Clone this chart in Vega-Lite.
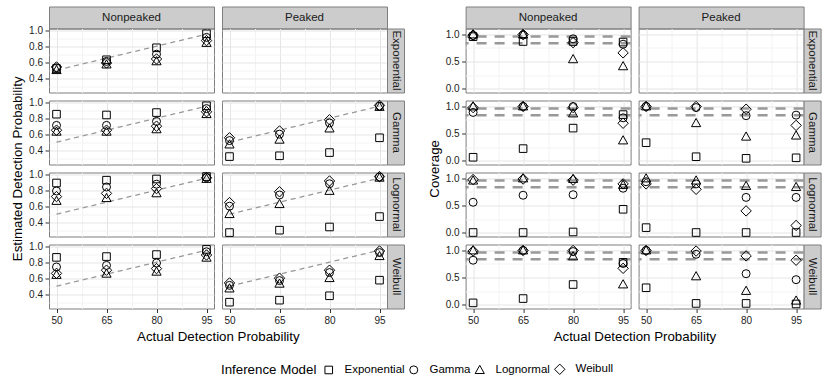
{
"$schema":"https://vega.github.io/schema/vega-lite/v6.json",
"padding":{"left":10,"top":5.5,"right":5,"bottom":5},
"config":{"font":"Liberation Sans","view":{"stroke":"#7f7f7f","strokeWidth":1},
"axis":{"domain":false,"grid":true,"gridWidth":1,"tickColor":"#333333","tickSize":4,"tickWidth":1,"labelFontSize":10,"labelColor":"#222222","labelPadding":2.5,"labelFlush":false,"labelOverlap":false,"titleFontSize":13.3,"titleFontWeight":"normal","titleColor":"#000000","titlePadding":4,"titleLimit":400}},
"datasets":{
"ident":[{"x":50,"y":0.5},{"x":95,"y":0.95}],
"ref":[{"y":0.965},{"y":0.84}],
"est_exp_np":[{"model":"Exponential","x":50,"y":0.52},{"model":"Gamma","x":50,"y":0.53},{"model":"Lognormal","x":50,"y":0.50},{"model":"Weibull","x":50,"y":0.54},{"model":"Exponential","x":65,"y":0.63},{"model":"Gamma","x":65,"y":0.61},{"model":"Lognormal","x":65,"y":0.57},{"model":"Weibull","x":65,"y":0.59},{"model":"Exponential","x":80,"y":0.78},{"model":"Gamma","x":80,"y":0.70},{"model":"Lognormal","x":80,"y":0.61},{"model":"Weibull","x":80,"y":0.64},{"model":"Exponential","x":95,"y":0.955},{"model":"Gamma","x":95,"y":0.91},{"model":"Lognormal","x":95,"y":0.84},{"model":"Weibull","x":95,"y":0.87}],
"est_gam_np":[{"model":"Exponential","x":50,"y":0.85},{"model":"Gamma","x":50,"y":0.71},{"model":"Lognormal","x":50,"y":0.63},{"model":"Weibull","x":50,"y":0.65},{"model":"Exponential","x":65,"y":0.84},{"model":"Gamma","x":65,"y":0.71},{"model":"Lognormal","x":65,"y":0.63},{"model":"Weibull","x":65,"y":0.65},{"model":"Exponential","x":80,"y":0.87},{"model":"Gamma","x":80,"y":0.76},{"model":"Lognormal","x":80,"y":0.66},{"model":"Weibull","x":80,"y":0.70},{"model":"Exponential","x":95,"y":0.955},{"model":"Gamma","x":95,"y":0.92},{"model":"Lognormal","x":95,"y":0.85},{"model":"Weibull","x":95,"y":0.88}],
"est_log_np":[{"model":"Exponential","x":50,"y":0.89},{"model":"Gamma","x":50,"y":0.79},{"model":"Lognormal","x":50,"y":0.665},{"model":"Weibull","x":50,"y":0.72},{"model":"Exponential","x":65,"y":0.925},{"model":"Gamma","x":65,"y":0.84},{"model":"Lognormal","x":65,"y":0.70},{"model":"Weibull","x":65,"y":0.76},{"model":"Exponential","x":80,"y":0.94},{"model":"Gamma","x":80,"y":0.875},{"model":"Lognormal","x":80,"y":0.76},{"model":"Weibull","x":80,"y":0.82},{"model":"Exponential","x":95,"y":0.97},{"model":"Gamma","x":95,"y":0.96},{"model":"Lognormal","x":95,"y":0.94},{"model":"Weibull","x":95,"y":0.955}],
"est_wei_np":[{"model":"Exponential","x":50,"y":0.86},{"model":"Gamma","x":50,"y":0.74},{"model":"Lognormal","x":50,"y":0.64},{"model":"Weibull","x":50,"y":0.66},{"model":"Exponential","x":65,"y":0.87},{"model":"Gamma","x":65,"y":0.76},{"model":"Lognormal","x":65,"y":0.655},{"model":"Weibull","x":65,"y":0.70},{"model":"Exponential","x":80,"y":0.895},{"model":"Gamma","x":80,"y":0.79},{"model":"Lognormal","x":80,"y":0.68},{"model":"Weibull","x":80,"y":0.72},{"model":"Exponential","x":95,"y":0.96},{"model":"Gamma","x":95,"y":0.93},{"model":"Lognormal","x":95,"y":0.855},{"model":"Weibull","x":95,"y":0.89}],
"est_gam_p":[{"model":"Exponential","x":50,"y":0.32},{"model":"Gamma","x":50,"y":0.52},{"model":"Lognormal","x":50,"y":0.47},{"model":"Weibull","x":50,"y":0.555},{"model":"Exponential","x":65,"y":0.33},{"model":"Gamma","x":65,"y":0.60},{"model":"Lognormal","x":65,"y":0.53},{"model":"Weibull","x":65,"y":0.64},{"model":"Exponential","x":80,"y":0.37},{"model":"Gamma","x":80,"y":0.74},{"model":"Lognormal","x":80,"y":0.67},{"model":"Weibull","x":80,"y":0.78},{"model":"Exponential","x":95,"y":0.555},{"model":"Gamma","x":95,"y":0.95},{"model":"Lognormal","x":95,"y":0.94},{"model":"Weibull","x":95,"y":0.96}],
"est_log_p":[{"model":"Exponential","x":50,"y":0.27},{"model":"Gamma","x":50,"y":0.60},{"model":"Lognormal","x":50,"y":0.50},{"model":"Weibull","x":50,"y":0.645},{"model":"Exponential","x":65,"y":0.30},{"model":"Gamma","x":65,"y":0.74},{"model":"Lognormal","x":65,"y":0.625},{"model":"Weibull","x":65,"y":0.78},{"model":"Exponential","x":80,"y":0.34},{"model":"Gamma","x":80,"y":0.88},{"model":"Lognormal","x":80,"y":0.79},{"model":"Weibull","x":80,"y":0.915},{"model":"Exponential","x":95,"y":0.47},{"model":"Gamma","x":95,"y":0.965},{"model":"Lognormal","x":95,"y":0.955},{"model":"Weibull","x":95,"y":0.97}],
"est_wei_p":[{"model":"Exponential","x":50,"y":0.30},{"model":"Gamma","x":50,"y":0.51},{"model":"Lognormal","x":50,"y":0.47},{"model":"Weibull","x":50,"y":0.54},{"model":"Exponential","x":65,"y":0.325},{"model":"Gamma","x":65,"y":0.57},{"model":"Lognormal","x":65,"y":0.53},{"model":"Weibull","x":65,"y":0.60},{"model":"Exponential","x":80,"y":0.38},{"model":"Gamma","x":80,"y":0.67},{"model":"Lognormal","x":80,"y":0.60},{"model":"Weibull","x":80,"y":0.70},{"model":"Exponential","x":95,"y":0.575},{"model":"Gamma","x":95,"y":0.92},{"model":"Lognormal","x":95,"y":0.875},{"model":"Weibull","x":95,"y":0.94}],
"cov_exp_np":[{"model":"Exponential","x":50,"y":0.96},{"model":"Gamma","x":50,"y":0.98},{"model":"Lognormal","x":50,"y":1.0},{"model":"Weibull","x":50,"y":0.99},{"model":"Exponential","x":65,"y":0.87},{"model":"Gamma","x":65,"y":0.99},{"model":"Lognormal","x":65,"y":1.0},{"model":"Weibull","x":65,"y":1.0},{"model":"Exponential","x":80,"y":0.87},{"model":"Gamma","x":80,"y":0.92},{"model":"Lognormal","x":80,"y":0.54},{"model":"Weibull","x":80,"y":0.85},{"model":"Exponential","x":95,"y":0.86},{"model":"Gamma","x":95,"y":0.82},{"model":"Lognormal","x":95,"y":0.41},{"model":"Weibull","x":95,"y":0.66}],
"cov_gam_np":[{"model":"Exponential","x":50,"y":0.06},{"model":"Gamma","x":50,"y":0.89},{"model":"Lognormal","x":50,"y":1.0},{"model":"Weibull","x":50,"y":0.98},{"model":"Exponential","x":65,"y":0.22},{"model":"Gamma","x":65,"y":1.0},{"model":"Lognormal","x":65,"y":1.0},{"model":"Weibull","x":65,"y":1.0},{"model":"Exponential","x":80,"y":0.60},{"model":"Gamma","x":80,"y":1.0},{"model":"Lognormal","x":80,"y":0.87},{"model":"Weibull","x":80,"y":0.98},{"model":"Exponential","x":95,"y":0.85},{"model":"Gamma","x":95,"y":0.79},{"model":"Lognormal","x":95,"y":0.37},{"model":"Weibull","x":95,"y":0.69}],
"cov_log_np":[{"model":"Exponential","x":50,"y":0.0},{"model":"Gamma","x":50,"y":0.56},{"model":"Lognormal","x":50,"y":0.96},{"model":"Weibull","x":50,"y":0.98},{"model":"Exponential","x":65,"y":0.0},{"model":"Gamma","x":65,"y":0.69},{"model":"Lognormal","x":65,"y":1.0},{"model":"Weibull","x":65,"y":0.99},{"model":"Exponential","x":80,"y":0.01},{"model":"Gamma","x":80,"y":0.70},{"model":"Lognormal","x":80,"y":0.99},{"model":"Weibull","x":80,"y":0.97},{"model":"Exponential","x":95,"y":0.43},{"model":"Gamma","x":95,"y":0.82},{"model":"Lognormal","x":95,"y":0.88},{"model":"Weibull","x":95,"y":0.90}],
"cov_wei_np":[{"model":"Exponential","x":50,"y":0.03},{"model":"Gamma","x":50,"y":0.82},{"model":"Lognormal","x":50,"y":1.0},{"model":"Weibull","x":50,"y":0.99},{"model":"Exponential","x":65,"y":0.11},{"model":"Gamma","x":65,"y":1.0},{"model":"Lognormal","x":65,"y":1.0},{"model":"Weibull","x":65,"y":1.0},{"model":"Exponential","x":80,"y":0.37},{"model":"Gamma","x":80,"y":0.98},{"model":"Lognormal","x":80,"y":0.89},{"model":"Weibull","x":80,"y":1.0},{"model":"Exponential","x":95,"y":0.78},{"model":"Gamma","x":95,"y":0.76},{"model":"Lognormal","x":95,"y":0.37},{"model":"Weibull","x":95,"y":0.67}],
"cov_gam_p":[{"model":"Exponential","x":50,"y":0.33},{"model":"Gamma","x":50,"y":1.0},{"model":"Lognormal","x":50,"y":1.0},{"model":"Weibull","x":50,"y":1.0},{"model":"Exponential","x":65,"y":0.07},{"model":"Gamma","x":65,"y":0.98},{"model":"Lognormal","x":65,"y":0.69},{"model":"Weibull","x":65,"y":1.0},{"model":"Exponential","x":80,"y":0.04},{"model":"Gamma","x":80,"y":0.83},{"model":"Lognormal","x":80,"y":0.44},{"model":"Weibull","x":80,"y":0.95},{"model":"Exponential","x":95,"y":0.05},{"model":"Gamma","x":95,"y":0.84},{"model":"Lognormal","x":95,"y":0.46},{"model":"Weibull","x":95,"y":0.65}],
"cov_log_p":[{"model":"Exponential","x":50,"y":0.09},{"model":"Gamma","x":50,"y":0.94},{"model":"Lognormal","x":50,"y":1.0},{"model":"Weibull","x":50,"y":0.90},{"model":"Exponential","x":65,"y":0.0},{"model":"Gamma","x":65,"y":0.90},{"model":"Lognormal","x":65,"y":0.96},{"model":"Weibull","x":65,"y":0.80},{"model":"Exponential","x":80,"y":0.0},{"model":"Gamma","x":80,"y":0.65},{"model":"Lognormal","x":80,"y":0.86},{"model":"Weibull","x":80,"y":0.40},{"model":"Exponential","x":95,"y":0.0},{"model":"Gamma","x":95,"y":0.65},{"model":"Lognormal","x":95,"y":0.84},{"model":"Weibull","x":95,"y":0.13}],
"cov_wei_p":[{"model":"Exponential","x":50,"y":0.31},{"model":"Gamma","x":50,"y":1.0},{"model":"Lognormal","x":50,"y":1.0},{"model":"Weibull","x":50,"y":1.0},{"model":"Exponential","x":65,"y":0.02},{"model":"Gamma","x":65,"y":0.93},{"model":"Lognormal","x":65,"y":0.52},{"model":"Weibull","x":65,"y":0.99},{"model":"Exponential","x":80,"y":0.02},{"model":"Gamma","x":80,"y":0.57},{"model":"Lognormal","x":80,"y":0.25},{"model":"Weibull","x":80,"y":0.90},{"model":"Exponential","x":95,"y":0.01},{"model":"Gamma","x":95,"y":0.46},{"model":"Lognormal","x":95,"y":0.07},{"model":"Weibull","x":95,"y":0.82}]
},
"resolve":{"scale":{"x":"independent","y":"independent","shape":"shared"},"axis":{"x":"independent","y":"independent"},"legend":{"shape":"shared"}},
"spacing":21.6,
"hconcat":[
{"columns":4,"spacing":0,"bounds":"flush",
"resolve":{"scale":{"x":"independent","y":"independent","shape":"shared"},"axis":{"x":"independent","y":"independent"},"legend":{"shape":"shared"}},
"concat":[
{"width":165,"height":22,"view":{"fill":"#cccccc","stroke":"#7f7f7f"},"data":{"values":[{"label":"Nonpeaked"}]},"mark":{"type":"text","fontSize":11.5,"color":"#1a1a1a"},"encoding":{"text":{"field":"label"}}},
{"width":7.7,"height":22,"view":{"stroke":null},"data":{"values":[{}]},"mark":"text","encoding":{"text":{"value":""}}},
{"width":165,"height":22,"view":{"fill":"#cccccc","stroke":"#7f7f7f"},"data":{"values":[{"label":"Peaked"}]},"mark":{"type":"text","fontSize":11.5,"color":"#1a1a1a"},"encoding":{"text":{"field":"label"}}},
{"width":17,"height":22,"view":{"stroke":null},"data":{"values":[{}]},"mark":"text","encoding":{"text":{"value":""}}},

{"width":165,"height":64,
"encoding":{"x":{"field":"x","type":"quantitative","scale":{"domain":[47.75,97.25],"nice":false,"zero":false},"axis":{"values":[50,57.5,65,72.5,80,87.5,95],"labels":false,"ticks":false,"title":null,"gridColor":{"condition":{"test":"datum.value % 15 != 5","value":"#f3f3f3"},"value":"#e5e5e5"}}},
"y":{"field":"y","type":"quantitative","scale":{"domain":[0.221,1.021],"nice":false,"zero":false},"axis":{"values":[0.3,0.4,0.5,0.6,0.7,0.8,0.9,1],"format":".1f","labelExpr":"round(datum.value*10) % 2 == 1 ? '' : datum.label","tickOpacity":{"condition":{"test":"round(datum.value*10) % 2 == 1","value":0},"value":1},"title":null,"gridColor":{"condition":{"test":"round(datum.value*10) % 2 == 1","value":"#f3f3f3"},"value":"#e5e5e5"}}}},
"layer":[
{"data":{"name":"ident"},"mark":{"type":"line","color":"#999999","strokeWidth":1.3,"strokeDash":[5,4]}},
{"data":{"name":"est_exp_np"},"mark":{"type":"point","filled":false,"color":"#000000","strokeWidth":1,"size":64,"opacity":1},"encoding":{
"shape":{"field":"model","type":"nominal","title":"Inference Model","scale":{"domain":["Exponential","Gamma","Lognormal","Weibull"],"range":["M-0.95,-0.95H0.95V0.95H-0.95Z","circle","M0,-1.2L1.15,0.85L-1.15,0.85Z","M0,-1.3L1.3,0L0,1.3L-1.3,0Z"]},"legend":{"orient":"none","legendX":172,"legendY":357,"direction":"horizontal","titleOrient":"left","titleFontSize":13.3,"titleFontWeight":"normal","titleColor":"#000000","titlePadding":6,"labelFontSize":11.5,"labelColor":"#000000","labelOffset":10,"columnPadding":2,"symbolStrokeColor":"#000000","symbolStrokeWidth":1,"symbolSize":64}}}}
]},
{"width":7.7,"height":1,"view":{"stroke":null},"data":{"values":[{}]},"mark":"text","encoding":{"text":{"value":""}}},
{"width":165,"height":64,"data":{"values":[]},"mark":{"type":"point","filled":false,"color":"#000000","strokeWidth":1,"size":64,"opacity":1},"encoding":{
"x":{"field":"x","type":"quantitative","scale":{"domain":[47.75,97.25],"nice":false,"zero":false},"axis":{"values":[50,57.5,65,72.5,80,87.5,95],"labels":false,"ticks":false,"title":null,"gridColor":{"condition":{"test":"datum.value % 15 != 5","value":"#f3f3f3"},"value":"#e5e5e5"}}},
"y":{"field":"y","type":"quantitative","scale":{"domain":[0.221,1.021],"nice":false,"zero":false},"axis":{"values":[0.3,0.4,0.5,0.6,0.7,0.8,0.9,1],"labels":false,"ticks":false,"title":null,"gridColor":{"condition":{"test":"round(datum.value*10) % 2 == 1","value":"#f3f3f3"},"value":"#e5e5e5"}}},
"shape":{"field":"model","type":"nominal","title":"Inference Model","scale":{"domain":["Exponential","Gamma","Lognormal","Weibull"],"range":["M-0.95,-0.95H0.95V0.95H-0.95Z","circle","M0,-1.2L1.15,0.85L-1.15,0.85Z","M0,-1.3L1.3,0L0,1.3L-1.3,0Z"]},"legend":{"orient":"none","legendX":172,"legendY":357,"direction":"horizontal","titleOrient":"left","titleFontSize":13.3,"titleFontWeight":"normal","titleColor":"#000000","titlePadding":6,"labelFontSize":11.5,"labelColor":"#000000","labelOffset":10,"columnPadding":2,"symbolStrokeColor":"#000000","symbolStrokeWidth":1,"symbolSize":64}}}},
{"width":17,"height":64,"view":{"fill":"#cccccc","stroke":"#7f7f7f"},"data":{"values":[{"label":"Exponential"}]},"mark":{"type":"text","fontSize":11.5,"color":"#1a1a1a","angle":90},"encoding":{"text":{"field":"label"}}},

{"width":1,"height":7.7,"view":{"stroke":null},"data":{"values":[{}]},"mark":"text","encoding":{"text":{"value":""}}},
{"width":1,"height":7.7,"view":{"stroke":null},"data":{"values":[{}]},"mark":"text","encoding":{"text":{"value":""}}},
{"width":1,"height":7.7,"view":{"stroke":null},"data":{"values":[{}]},"mark":"text","encoding":{"text":{"value":""}}},
{"width":1,"height":7.7,"view":{"stroke":null},"data":{"values":[{}]},"mark":"text","encoding":{"text":{"value":""}}},

{"width":165,"height":64,
"encoding":{"x":{"field":"x","type":"quantitative","scale":{"domain":[47.75,97.25],"nice":false,"zero":false},"axis":{"values":[50,57.5,65,72.5,80,87.5,95],"labels":false,"ticks":false,"title":null,"gridColor":{"condition":{"test":"datum.value % 15 != 5","value":"#f3f3f3"},"value":"#e5e5e5"}}},
"y":{"field":"y","type":"quantitative","scale":{"domain":[0.221,1.021],"nice":false,"zero":false},"axis":{"values":[0.3,0.4,0.5,0.6,0.7,0.8,0.9,1],"format":".1f","labelExpr":"round(datum.value*10) % 2 == 1 ? '' : datum.label","tickOpacity":{"condition":{"test":"round(datum.value*10) % 2 == 1","value":0},"value":1},"title":"Estimated Detection Probability","titleY":67.85,"gridColor":{"condition":{"test":"round(datum.value*10) % 2 == 1","value":"#f3f3f3"},"value":"#e5e5e5"}}}},
"layer":[
{"data":{"name":"ident"},"mark":{"type":"line","color":"#999999","strokeWidth":1.3,"strokeDash":[5,4]}},
{"data":{"name":"est_gam_np"},"mark":{"type":"point","filled":false,"color":"#000000","strokeWidth":1,"size":64,"opacity":1},"encoding":{
"shape":{"field":"model","type":"nominal","title":"Inference Model","scale":{"domain":["Exponential","Gamma","Lognormal","Weibull"],"range":["M-0.95,-0.95H0.95V0.95H-0.95Z","circle","M0,-1.2L1.15,0.85L-1.15,0.85Z","M0,-1.3L1.3,0L0,1.3L-1.3,0Z"]},"legend":{"orient":"none","legendX":172,"legendY":357,"direction":"horizontal","titleOrient":"left","titleFontSize":13.3,"titleFontWeight":"normal","titleColor":"#000000","titlePadding":6,"labelFontSize":11.5,"labelColor":"#000000","labelOffset":10,"columnPadding":2,"symbolStrokeColor":"#000000","symbolStrokeWidth":1,"symbolSize":64}}}}
]},
{"width":7.7,"height":1,"view":{"stroke":null},"data":{"values":[{}]},"mark":"text","encoding":{"text":{"value":""}}},
{"width":165,"height":64,
"encoding":{"x":{"field":"x","type":"quantitative","scale":{"domain":[47.75,97.25],"nice":false,"zero":false},"axis":{"values":[50,57.5,65,72.5,80,87.5,95],"labels":false,"ticks":false,"title":null,"gridColor":{"condition":{"test":"datum.value % 15 != 5","value":"#f3f3f3"},"value":"#e5e5e5"}}},
"y":{"field":"y","type":"quantitative","scale":{"domain":[0.221,1.021],"nice":false,"zero":false},"axis":{"values":[0.3,0.4,0.5,0.6,0.7,0.8,0.9,1],"labels":false,"ticks":false,"title":null,"gridColor":{"condition":{"test":"round(datum.value*10) % 2 == 1","value":"#f3f3f3"},"value":"#e5e5e5"}}}},
"layer":[
{"data":{"name":"ident"},"mark":{"type":"line","color":"#999999","strokeWidth":1.3,"strokeDash":[5,4]}},
{"data":{"name":"est_gam_p"},"mark":{"type":"point","filled":false,"color":"#000000","strokeWidth":1,"size":64,"opacity":1},"encoding":{
"shape":{"field":"model","type":"nominal","title":"Inference Model","scale":{"domain":["Exponential","Gamma","Lognormal","Weibull"],"range":["M-0.95,-0.95H0.95V0.95H-0.95Z","circle","M0,-1.2L1.15,0.85L-1.15,0.85Z","M0,-1.3L1.3,0L0,1.3L-1.3,0Z"]},"legend":{"orient":"none","legendX":172,"legendY":357,"direction":"horizontal","titleOrient":"left","titleFontSize":13.3,"titleFontWeight":"normal","titleColor":"#000000","titlePadding":6,"labelFontSize":11.5,"labelColor":"#000000","labelOffset":10,"columnPadding":2,"symbolStrokeColor":"#000000","symbolStrokeWidth":1,"symbolSize":64}}}}
]},
{"width":17,"height":64,"view":{"fill":"#cccccc","stroke":"#7f7f7f"},"data":{"values":[{"label":"Gamma"}]},"mark":{"type":"text","fontSize":11.5,"color":"#1a1a1a","angle":90},"encoding":{"text":{"field":"label"}}},

{"width":1,"height":7.7,"view":{"stroke":null},"data":{"values":[{}]},"mark":"text","encoding":{"text":{"value":""}}},
{"width":1,"height":7.7,"view":{"stroke":null},"data":{"values":[{}]},"mark":"text","encoding":{"text":{"value":""}}},
{"width":1,"height":7.7,"view":{"stroke":null},"data":{"values":[{}]},"mark":"text","encoding":{"text":{"value":""}}},
{"width":1,"height":7.7,"view":{"stroke":null},"data":{"values":[{}]},"mark":"text","encoding":{"text":{"value":""}}},

{"width":165,"height":64,
"encoding":{"x":{"field":"x","type":"quantitative","scale":{"domain":[47.75,97.25],"nice":false,"zero":false},"axis":{"values":[50,57.5,65,72.5,80,87.5,95],"labels":false,"ticks":false,"title":null,"gridColor":{"condition":{"test":"datum.value % 15 != 5","value":"#f3f3f3"},"value":"#e5e5e5"}}},
"y":{"field":"y","type":"quantitative","scale":{"domain":[0.221,1.021],"nice":false,"zero":false},"axis":{"values":[0.3,0.4,0.5,0.6,0.7,0.8,0.9,1],"format":".1f","labelExpr":"round(datum.value*10) % 2 == 1 ? '' : datum.label","tickOpacity":{"condition":{"test":"round(datum.value*10) % 2 == 1","value":0},"value":1},"title":null,"gridColor":{"condition":{"test":"round(datum.value*10) % 2 == 1","value":"#f3f3f3"},"value":"#e5e5e5"}}}},
"layer":[
{"data":{"name":"ident"},"mark":{"type":"line","color":"#999999","strokeWidth":1.3,"strokeDash":[5,4]}},
{"data":{"name":"est_log_np"},"mark":{"type":"point","filled":false,"color":"#000000","strokeWidth":1,"size":64,"opacity":1},"encoding":{
"shape":{"field":"model","type":"nominal","title":"Inference Model","scale":{"domain":["Exponential","Gamma","Lognormal","Weibull"],"range":["M-0.95,-0.95H0.95V0.95H-0.95Z","circle","M0,-1.2L1.15,0.85L-1.15,0.85Z","M0,-1.3L1.3,0L0,1.3L-1.3,0Z"]},"legend":{"orient":"none","legendX":172,"legendY":357,"direction":"horizontal","titleOrient":"left","titleFontSize":13.3,"titleFontWeight":"normal","titleColor":"#000000","titlePadding":6,"labelFontSize":11.5,"labelColor":"#000000","labelOffset":10,"columnPadding":2,"symbolStrokeColor":"#000000","symbolStrokeWidth":1,"symbolSize":64}}}}
]},
{"width":7.7,"height":1,"view":{"stroke":null},"data":{"values":[{}]},"mark":"text","encoding":{"text":{"value":""}}},
{"width":165,"height":64,
"encoding":{"x":{"field":"x","type":"quantitative","scale":{"domain":[47.75,97.25],"nice":false,"zero":false},"axis":{"values":[50,57.5,65,72.5,80,87.5,95],"labels":false,"ticks":false,"title":null,"gridColor":{"condition":{"test":"datum.value % 15 != 5","value":"#f3f3f3"},"value":"#e5e5e5"}}},
"y":{"field":"y","type":"quantitative","scale":{"domain":[0.221,1.021],"nice":false,"zero":false},"axis":{"values":[0.3,0.4,0.5,0.6,0.7,0.8,0.9,1],"labels":false,"ticks":false,"title":null,"gridColor":{"condition":{"test":"round(datum.value*10) % 2 == 1","value":"#f3f3f3"},"value":"#e5e5e5"}}}},
"layer":[
{"data":{"name":"ident"},"mark":{"type":"line","color":"#999999","strokeWidth":1.3,"strokeDash":[5,4]}},
{"data":{"name":"est_log_p"},"mark":{"type":"point","filled":false,"color":"#000000","strokeWidth":1,"size":64,"opacity":1},"encoding":{
"shape":{"field":"model","type":"nominal","title":"Inference Model","scale":{"domain":["Exponential","Gamma","Lognormal","Weibull"],"range":["M-0.95,-0.95H0.95V0.95H-0.95Z","circle","M0,-1.2L1.15,0.85L-1.15,0.85Z","M0,-1.3L1.3,0L0,1.3L-1.3,0Z"]},"legend":{"orient":"none","legendX":172,"legendY":357,"direction":"horizontal","titleOrient":"left","titleFontSize":13.3,"titleFontWeight":"normal","titleColor":"#000000","titlePadding":6,"labelFontSize":11.5,"labelColor":"#000000","labelOffset":10,"columnPadding":2,"symbolStrokeColor":"#000000","symbolStrokeWidth":1,"symbolSize":64}}}}
]},
{"width":17,"height":64,"view":{"fill":"#cccccc","stroke":"#7f7f7f"},"data":{"values":[{"label":"Lognormal"}]},"mark":{"type":"text","fontSize":11.5,"color":"#1a1a1a","angle":90},"encoding":{"text":{"field":"label"}}},

{"width":1,"height":7.7,"view":{"stroke":null},"data":{"values":[{}]},"mark":"text","encoding":{"text":{"value":""}}},
{"width":1,"height":7.7,"view":{"stroke":null},"data":{"values":[{}]},"mark":"text","encoding":{"text":{"value":""}}},
{"width":1,"height":7.7,"view":{"stroke":null},"data":{"values":[{}]},"mark":"text","encoding":{"text":{"value":""}}},
{"width":1,"height":7.7,"view":{"stroke":null},"data":{"values":[{}]},"mark":"text","encoding":{"text":{"value":""}}},

{"width":165,"height":64,
"encoding":{"x":{"field":"x","type":"quantitative","scale":{"domain":[47.75,97.25],"nice":false,"zero":false},"axis":{"values":[50,57.5,65,72.5,80,87.5,95],"labelExpr":"datum.value % 15 == 5 ? datum.label : ''","tickOpacity":{"condition":{"test":"datum.value % 15 != 5","value":0},"value":1},"title":"Actual Detection Probability","titleX":168.85,"gridColor":{"condition":{"test":"datum.value % 15 != 5","value":"#f3f3f3"},"value":"#e5e5e5"}}},
"y":{"field":"y","type":"quantitative","scale":{"domain":[0.221,1.021],"nice":false,"zero":false},"axis":{"values":[0.3,0.4,0.5,0.6,0.7,0.8,0.9,1],"format":".1f","labelExpr":"round(datum.value*10) % 2 == 1 ? '' : datum.label","tickOpacity":{"condition":{"test":"round(datum.value*10) % 2 == 1","value":0},"value":1},"title":null,"gridColor":{"condition":{"test":"round(datum.value*10) % 2 == 1","value":"#f3f3f3"},"value":"#e5e5e5"}}}},
"layer":[
{"data":{"name":"ident"},"mark":{"type":"line","color":"#999999","strokeWidth":1.3,"strokeDash":[5,4]}},
{"data":{"name":"est_wei_np"},"mark":{"type":"point","filled":false,"color":"#000000","strokeWidth":1,"size":64,"opacity":1},"encoding":{
"shape":{"field":"model","type":"nominal","title":"Inference Model","scale":{"domain":["Exponential","Gamma","Lognormal","Weibull"],"range":["M-0.95,-0.95H0.95V0.95H-0.95Z","circle","M0,-1.2L1.15,0.85L-1.15,0.85Z","M0,-1.3L1.3,0L0,1.3L-1.3,0Z"]},"legend":{"orient":"none","legendX":172,"legendY":357,"direction":"horizontal","titleOrient":"left","titleFontSize":13.3,"titleFontWeight":"normal","titleColor":"#000000","titlePadding":6,"labelFontSize":11.5,"labelColor":"#000000","labelOffset":10,"columnPadding":2,"symbolStrokeColor":"#000000","symbolStrokeWidth":1,"symbolSize":64}}}}
]},
{"width":7.7,"height":1,"view":{"stroke":null},"data":{"values":[{}]},"mark":"text","encoding":{"text":{"value":""}}},
{"width":165,"height":64,
"encoding":{"x":{"field":"x","type":"quantitative","scale":{"domain":[47.75,97.25],"nice":false,"zero":false},"axis":{"values":[50,57.5,65,72.5,80,87.5,95],"labelExpr":"datum.value % 15 == 5 ? datum.label : ''","tickOpacity":{"condition":{"test":"datum.value % 15 != 5","value":0},"value":1},"title":null,"gridColor":{"condition":{"test":"datum.value % 15 != 5","value":"#f3f3f3"},"value":"#e5e5e5"}}},
"y":{"field":"y","type":"quantitative","scale":{"domain":[0.221,1.021],"nice":false,"zero":false},"axis":{"values":[0.3,0.4,0.5,0.6,0.7,0.8,0.9,1],"labels":false,"ticks":false,"title":null,"gridColor":{"condition":{"test":"round(datum.value*10) % 2 == 1","value":"#f3f3f3"},"value":"#e5e5e5"}}}},
"layer":[
{"data":{"name":"ident"},"mark":{"type":"line","color":"#999999","strokeWidth":1.3,"strokeDash":[5,4]}},
{"data":{"name":"est_wei_p"},"mark":{"type":"point","filled":false,"color":"#000000","strokeWidth":1,"size":64,"opacity":1},"encoding":{
"shape":{"field":"model","type":"nominal","title":"Inference Model","scale":{"domain":["Exponential","Gamma","Lognormal","Weibull"],"range":["M-0.95,-0.95H0.95V0.95H-0.95Z","circle","M0,-1.2L1.15,0.85L-1.15,0.85Z","M0,-1.3L1.3,0L0,1.3L-1.3,0Z"]},"legend":{"orient":"none","legendX":172,"legendY":357,"direction":"horizontal","titleOrient":"left","titleFontSize":13.3,"titleFontWeight":"normal","titleColor":"#000000","titlePadding":6,"labelFontSize":11.5,"labelColor":"#000000","labelOffset":10,"columnPadding":2,"symbolStrokeColor":"#000000","symbolStrokeWidth":1,"symbolSize":64}}}}
]},
{"width":17,"height":64,"view":{"fill":"#cccccc","stroke":"#7f7f7f"},"data":{"values":[{"label":"Weibull"}]},"mark":{"type":"text","fontSize":11.5,"color":"#1a1a1a","angle":90},"encoding":{"text":{"field":"label"}}}
]},

{"columns":4,"spacing":0,"bounds":"flush",
"resolve":{"scale":{"x":"independent","y":"independent","shape":"shared"},"axis":{"x":"independent","y":"independent"},"legend":{"shape":"shared"}},
"concat":[
{"width":165,"height":22,"view":{"fill":"#cccccc","stroke":"#7f7f7f"},"data":{"values":[{"label":"Nonpeaked"}]},"mark":{"type":"text","fontSize":11.5,"color":"#1a1a1a"},"encoding":{"text":{"field":"label"}}},
{"width":7.7,"height":22,"view":{"stroke":null},"data":{"values":[{}]},"mark":"text","encoding":{"text":{"value":""}}},
{"width":165,"height":22,"view":{"fill":"#cccccc","stroke":"#7f7f7f"},"data":{"values":[{"label":"Peaked"}]},"mark":{"type":"text","fontSize":11.5,"color":"#1a1a1a"},"encoding":{"text":{"field":"label"}}},
{"width":17,"height":22,"view":{"stroke":null},"data":{"values":[{}]},"mark":"text","encoding":{"text":{"value":""}}},

{"width":165,"height":64,
"encoding":{"y":{"field":"y","type":"quantitative","scale":{"domain":[-0.074,1.111],"nice":false,"zero":false},"axis":{"values":[0,0.25,0.5,0.75,1],"format":".1f","labelExpr":"round(datum.value*4) % 2 == 1 ? '' : datum.label","tickOpacity":{"condition":{"test":"round(datum.value*4) % 2 == 1","value":0},"value":1},"title":null,"gridColor":{"condition":{"test":"round(datum.value*4) % 2 == 1","value":"#f3f3f3"},"value":"#e5e5e5"}}}},
"layer":[
{"data":{"name":"ref"},"mark":{"type":"rule","color":"#999999","strokeWidth":2.5,"strokeDash":[10,8]}},
{"data":{"name":"cov_exp_np"},"mark":{"type":"point","filled":false,"color":"#000000","strokeWidth":1,"size":64,"opacity":1},"encoding":{
"x":{"field":"x","type":"quantitative","scale":{"domain":[47.75,97.25],"nice":false,"zero":false},"axis":{"values":[50,57.5,65,72.5,80,87.5,95],"labels":false,"ticks":false,"title":null,"gridColor":{"condition":{"test":"datum.value % 15 != 5","value":"#f3f3f3"},"value":"#e5e5e5"}}},
"shape":{"field":"model","type":"nominal","title":"Inference Model","scale":{"domain":["Exponential","Gamma","Lognormal","Weibull"],"range":["M-0.95,-0.95H0.95V0.95H-0.95Z","circle","M0,-1.2L1.15,0.85L-1.15,0.85Z","M0,-1.3L1.3,0L0,1.3L-1.3,0Z"]},"legend":{"orient":"none","legendX":172,"legendY":357,"direction":"horizontal","titleOrient":"left","titleFontSize":13.3,"titleFontWeight":"normal","titleColor":"#000000","titlePadding":6,"labelFontSize":11.5,"labelColor":"#000000","labelOffset":10,"columnPadding":2,"symbolStrokeColor":"#000000","symbolStrokeWidth":1,"symbolSize":64}}}}
]},
{"width":7.7,"height":1,"view":{"stroke":null},"data":{"values":[{}]},"mark":"text","encoding":{"text":{"value":""}}},
{"width":165,"height":64,"data":{"values":[]},"mark":{"type":"point","filled":false,"color":"#000000","strokeWidth":1,"size":64,"opacity":1},"encoding":{
"x":{"field":"x","type":"quantitative","scale":{"domain":[47.75,97.25],"nice":false,"zero":false},"axis":{"values":[50,57.5,65,72.5,80,87.5,95],"labels":false,"ticks":false,"title":null,"gridColor":{"condition":{"test":"datum.value % 15 != 5","value":"#f3f3f3"},"value":"#e5e5e5"}}},
"y":{"field":"y","type":"quantitative","scale":{"domain":[-0.074,1.111],"nice":false,"zero":false},"axis":{"values":[0,0.25,0.5,0.75,1],"labels":false,"ticks":false,"title":null,"gridColor":{"condition":{"test":"round(datum.value*4) % 2 == 1","value":"#f3f3f3"},"value":"#e5e5e5"}}},
"shape":{"field":"model","type":"nominal","title":"Inference Model","scale":{"domain":["Exponential","Gamma","Lognormal","Weibull"],"range":["M-0.95,-0.95H0.95V0.95H-0.95Z","circle","M0,-1.2L1.15,0.85L-1.15,0.85Z","M0,-1.3L1.3,0L0,1.3L-1.3,0Z"]},"legend":{"orient":"none","legendX":172,"legendY":357,"direction":"horizontal","titleOrient":"left","titleFontSize":13.3,"titleFontWeight":"normal","titleColor":"#000000","titlePadding":6,"labelFontSize":11.5,"labelColor":"#000000","labelOffset":10,"columnPadding":2,"symbolStrokeColor":"#000000","symbolStrokeWidth":1,"symbolSize":64}}}},
{"width":17,"height":64,"view":{"fill":"#cccccc","stroke":"#7f7f7f"},"data":{"values":[{"label":"Exponential"}]},"mark":{"type":"text","fontSize":11.5,"color":"#1a1a1a","angle":90},"encoding":{"text":{"field":"label"}}},

{"width":1,"height":7.7,"view":{"stroke":null},"data":{"values":[{}]},"mark":"text","encoding":{"text":{"value":""}}},
{"width":1,"height":7.7,"view":{"stroke":null},"data":{"values":[{}]},"mark":"text","encoding":{"text":{"value":""}}},
{"width":1,"height":7.7,"view":{"stroke":null},"data":{"values":[{}]},"mark":"text","encoding":{"text":{"value":""}}},
{"width":1,"height":7.7,"view":{"stroke":null},"data":{"values":[{}]},"mark":"text","encoding":{"text":{"value":""}}},

{"width":165,"height":64,
"encoding":{"y":{"field":"y","type":"quantitative","scale":{"domain":[-0.074,1.111],"nice":false,"zero":false},"axis":{"values":[0,0.25,0.5,0.75,1],"format":".1f","labelExpr":"round(datum.value*4) % 2 == 1 ? '' : datum.label","tickOpacity":{"condition":{"test":"round(datum.value*4) % 2 == 1","value":0},"value":1},"title":"Coverage","titleY":67.85,"gridColor":{"condition":{"test":"round(datum.value*4) % 2 == 1","value":"#f3f3f3"},"value":"#e5e5e5"}}}},
"layer":[
{"data":{"name":"ref"},"mark":{"type":"rule","color":"#999999","strokeWidth":2.5,"strokeDash":[10,8]}},
{"data":{"name":"cov_gam_np"},"mark":{"type":"point","filled":false,"color":"#000000","strokeWidth":1,"size":64,"opacity":1},"encoding":{
"x":{"field":"x","type":"quantitative","scale":{"domain":[47.75,97.25],"nice":false,"zero":false},"axis":{"values":[50,57.5,65,72.5,80,87.5,95],"labels":false,"ticks":false,"title":null,"gridColor":{"condition":{"test":"datum.value % 15 != 5","value":"#f3f3f3"},"value":"#e5e5e5"}}},
"shape":{"field":"model","type":"nominal","title":"Inference Model","scale":{"domain":["Exponential","Gamma","Lognormal","Weibull"],"range":["M-0.95,-0.95H0.95V0.95H-0.95Z","circle","M0,-1.2L1.15,0.85L-1.15,0.85Z","M0,-1.3L1.3,0L0,1.3L-1.3,0Z"]},"legend":{"orient":"none","legendX":172,"legendY":357,"direction":"horizontal","titleOrient":"left","titleFontSize":13.3,"titleFontWeight":"normal","titleColor":"#000000","titlePadding":6,"labelFontSize":11.5,"labelColor":"#000000","labelOffset":10,"columnPadding":2,"symbolStrokeColor":"#000000","symbolStrokeWidth":1,"symbolSize":64}}}}
]},
{"width":7.7,"height":1,"view":{"stroke":null},"data":{"values":[{}]},"mark":"text","encoding":{"text":{"value":""}}},
{"width":165,"height":64,
"encoding":{"y":{"field":"y","type":"quantitative","scale":{"domain":[-0.074,1.111],"nice":false,"zero":false},"axis":{"values":[0,0.25,0.5,0.75,1],"labels":false,"ticks":false,"title":null,"gridColor":{"condition":{"test":"round(datum.value*4) % 2 == 1","value":"#f3f3f3"},"value":"#e5e5e5"}}}},
"layer":[
{"data":{"name":"ref"},"mark":{"type":"rule","color":"#999999","strokeWidth":2.5,"strokeDash":[10,8]}},
{"data":{"name":"cov_gam_p"},"mark":{"type":"point","filled":false,"color":"#000000","strokeWidth":1,"size":64,"opacity":1},"encoding":{
"x":{"field":"x","type":"quantitative","scale":{"domain":[47.75,97.25],"nice":false,"zero":false},"axis":{"values":[50,57.5,65,72.5,80,87.5,95],"labels":false,"ticks":false,"title":null,"gridColor":{"condition":{"test":"datum.value % 15 != 5","value":"#f3f3f3"},"value":"#e5e5e5"}}},
"shape":{"field":"model","type":"nominal","title":"Inference Model","scale":{"domain":["Exponential","Gamma","Lognormal","Weibull"],"range":["M-0.95,-0.95H0.95V0.95H-0.95Z","circle","M0,-1.2L1.15,0.85L-1.15,0.85Z","M0,-1.3L1.3,0L0,1.3L-1.3,0Z"]},"legend":{"orient":"none","legendX":172,"legendY":357,"direction":"horizontal","titleOrient":"left","titleFontSize":13.3,"titleFontWeight":"normal","titleColor":"#000000","titlePadding":6,"labelFontSize":11.5,"labelColor":"#000000","labelOffset":10,"columnPadding":2,"symbolStrokeColor":"#000000","symbolStrokeWidth":1,"symbolSize":64}}}}
]},
{"width":17,"height":64,"view":{"fill":"#cccccc","stroke":"#7f7f7f"},"data":{"values":[{"label":"Gamma"}]},"mark":{"type":"text","fontSize":11.5,"color":"#1a1a1a","angle":90},"encoding":{"text":{"field":"label"}}},

{"width":1,"height":7.7,"view":{"stroke":null},"data":{"values":[{}]},"mark":"text","encoding":{"text":{"value":""}}},
{"width":1,"height":7.7,"view":{"stroke":null},"data":{"values":[{}]},"mark":"text","encoding":{"text":{"value":""}}},
{"width":1,"height":7.7,"view":{"stroke":null},"data":{"values":[{}]},"mark":"text","encoding":{"text":{"value":""}}},
{"width":1,"height":7.7,"view":{"stroke":null},"data":{"values":[{}]},"mark":"text","encoding":{"text":{"value":""}}},

{"width":165,"height":64,
"encoding":{"y":{"field":"y","type":"quantitative","scale":{"domain":[-0.074,1.111],"nice":false,"zero":false},"axis":{"values":[0,0.25,0.5,0.75,1],"format":".1f","labelExpr":"round(datum.value*4) % 2 == 1 ? '' : datum.label","tickOpacity":{"condition":{"test":"round(datum.value*4) % 2 == 1","value":0},"value":1},"title":null,"gridColor":{"condition":{"test":"round(datum.value*4) % 2 == 1","value":"#f3f3f3"},"value":"#e5e5e5"}}}},
"layer":[
{"data":{"name":"ref"},"mark":{"type":"rule","color":"#999999","strokeWidth":2.5,"strokeDash":[10,8]}},
{"data":{"name":"cov_log_np"},"mark":{"type":"point","filled":false,"color":"#000000","strokeWidth":1,"size":64,"opacity":1},"encoding":{
"x":{"field":"x","type":"quantitative","scale":{"domain":[47.75,97.25],"nice":false,"zero":false},"axis":{"values":[50,57.5,65,72.5,80,87.5,95],"labels":false,"ticks":false,"title":null,"gridColor":{"condition":{"test":"datum.value % 15 != 5","value":"#f3f3f3"},"value":"#e5e5e5"}}},
"shape":{"field":"model","type":"nominal","title":"Inference Model","scale":{"domain":["Exponential","Gamma","Lognormal","Weibull"],"range":["M-0.95,-0.95H0.95V0.95H-0.95Z","circle","M0,-1.2L1.15,0.85L-1.15,0.85Z","M0,-1.3L1.3,0L0,1.3L-1.3,0Z"]},"legend":{"orient":"none","legendX":172,"legendY":357,"direction":"horizontal","titleOrient":"left","titleFontSize":13.3,"titleFontWeight":"normal","titleColor":"#000000","titlePadding":6,"labelFontSize":11.5,"labelColor":"#000000","labelOffset":10,"columnPadding":2,"symbolStrokeColor":"#000000","symbolStrokeWidth":1,"symbolSize":64}}}}
]},
{"width":7.7,"height":1,"view":{"stroke":null},"data":{"values":[{}]},"mark":"text","encoding":{"text":{"value":""}}},
{"width":165,"height":64,
"encoding":{"y":{"field":"y","type":"quantitative","scale":{"domain":[-0.074,1.111],"nice":false,"zero":false},"axis":{"values":[0,0.25,0.5,0.75,1],"labels":false,"ticks":false,"title":null,"gridColor":{"condition":{"test":"round(datum.value*4) % 2 == 1","value":"#f3f3f3"},"value":"#e5e5e5"}}}},
"layer":[
{"data":{"name":"ref"},"mark":{"type":"rule","color":"#999999","strokeWidth":2.5,"strokeDash":[10,8]}},
{"data":{"name":"cov_log_p"},"mark":{"type":"point","filled":false,"color":"#000000","strokeWidth":1,"size":64,"opacity":1},"encoding":{
"x":{"field":"x","type":"quantitative","scale":{"domain":[47.75,97.25],"nice":false,"zero":false},"axis":{"values":[50,57.5,65,72.5,80,87.5,95],"labels":false,"ticks":false,"title":null,"gridColor":{"condition":{"test":"datum.value % 15 != 5","value":"#f3f3f3"},"value":"#e5e5e5"}}},
"shape":{"field":"model","type":"nominal","title":"Inference Model","scale":{"domain":["Exponential","Gamma","Lognormal","Weibull"],"range":["M-0.95,-0.95H0.95V0.95H-0.95Z","circle","M0,-1.2L1.15,0.85L-1.15,0.85Z","M0,-1.3L1.3,0L0,1.3L-1.3,0Z"]},"legend":{"orient":"none","legendX":172,"legendY":357,"direction":"horizontal","titleOrient":"left","titleFontSize":13.3,"titleFontWeight":"normal","titleColor":"#000000","titlePadding":6,"labelFontSize":11.5,"labelColor":"#000000","labelOffset":10,"columnPadding":2,"symbolStrokeColor":"#000000","symbolStrokeWidth":1,"symbolSize":64}}}}
]},
{"width":17,"height":64,"view":{"fill":"#cccccc","stroke":"#7f7f7f"},"data":{"values":[{"label":"Lognormal"}]},"mark":{"type":"text","fontSize":11.5,"color":"#1a1a1a","angle":90},"encoding":{"text":{"field":"label"}}},

{"width":1,"height":7.7,"view":{"stroke":null},"data":{"values":[{}]},"mark":"text","encoding":{"text":{"value":""}}},
{"width":1,"height":7.7,"view":{"stroke":null},"data":{"values":[{}]},"mark":"text","encoding":{"text":{"value":""}}},
{"width":1,"height":7.7,"view":{"stroke":null},"data":{"values":[{}]},"mark":"text","encoding":{"text":{"value":""}}},
{"width":1,"height":7.7,"view":{"stroke":null},"data":{"values":[{}]},"mark":"text","encoding":{"text":{"value":""}}},

{"width":165,"height":64,
"encoding":{"y":{"field":"y","type":"quantitative","scale":{"domain":[-0.074,1.111],"nice":false,"zero":false},"axis":{"values":[0,0.25,0.5,0.75,1],"format":".1f","labelExpr":"round(datum.value*4) % 2 == 1 ? '' : datum.label","tickOpacity":{"condition":{"test":"round(datum.value*4) % 2 == 1","value":0},"value":1},"title":null,"gridColor":{"condition":{"test":"round(datum.value*4) % 2 == 1","value":"#f3f3f3"},"value":"#e5e5e5"}}}},
"layer":[
{"data":{"name":"ref"},"mark":{"type":"rule","color":"#999999","strokeWidth":2.5,"strokeDash":[10,8]}},
{"data":{"name":"cov_wei_np"},"mark":{"type":"point","filled":false,"color":"#000000","strokeWidth":1,"size":64,"opacity":1},"encoding":{
"x":{"field":"x","type":"quantitative","scale":{"domain":[47.75,97.25],"nice":false,"zero":false},"axis":{"values":[50,57.5,65,72.5,80,87.5,95],"labelExpr":"datum.value % 15 == 5 ? datum.label : ''","tickOpacity":{"condition":{"test":"datum.value % 15 != 5","value":0},"value":1},"title":"Actual Detection Probability","titleX":168.85,"gridColor":{"condition":{"test":"datum.value % 15 != 5","value":"#f3f3f3"},"value":"#e5e5e5"}}},
"shape":{"field":"model","type":"nominal","title":"Inference Model","scale":{"domain":["Exponential","Gamma","Lognormal","Weibull"],"range":["M-0.95,-0.95H0.95V0.95H-0.95Z","circle","M0,-1.2L1.15,0.85L-1.15,0.85Z","M0,-1.3L1.3,0L0,1.3L-1.3,0Z"]},"legend":{"orient":"none","legendX":172,"legendY":357,"direction":"horizontal","titleOrient":"left","titleFontSize":13.3,"titleFontWeight":"normal","titleColor":"#000000","titlePadding":6,"labelFontSize":11.5,"labelColor":"#000000","labelOffset":10,"columnPadding":2,"symbolStrokeColor":"#000000","symbolStrokeWidth":1,"symbolSize":64}}}}
]},
{"width":7.7,"height":1,"view":{"stroke":null},"data":{"values":[{}]},"mark":"text","encoding":{"text":{"value":""}}},
{"width":165,"height":64,
"encoding":{"y":{"field":"y","type":"quantitative","scale":{"domain":[-0.074,1.111],"nice":false,"zero":false},"axis":{"values":[0,0.25,0.5,0.75,1],"labels":false,"ticks":false,"title":null,"gridColor":{"condition":{"test":"round(datum.value*4) % 2 == 1","value":"#f3f3f3"},"value":"#e5e5e5"}}}},
"layer":[
{"data":{"name":"ref"},"mark":{"type":"rule","color":"#999999","strokeWidth":2.5,"strokeDash":[10,8]}},
{"data":{"name":"cov_wei_p"},"mark":{"type":"point","filled":false,"color":"#000000","strokeWidth":1,"size":64,"opacity":1},"encoding":{
"x":{"field":"x","type":"quantitative","scale":{"domain":[47.75,97.25],"nice":false,"zero":false},"axis":{"values":[50,57.5,65,72.5,80,87.5,95],"labelExpr":"datum.value % 15 == 5 ? datum.label : ''","tickOpacity":{"condition":{"test":"datum.value % 15 != 5","value":0},"value":1},"title":null,"gridColor":{"condition":{"test":"datum.value % 15 != 5","value":"#f3f3f3"},"value":"#e5e5e5"}}},
"shape":{"field":"model","type":"nominal","title":"Inference Model","scale":{"domain":["Exponential","Gamma","Lognormal","Weibull"],"range":["M-0.95,-0.95H0.95V0.95H-0.95Z","circle","M0,-1.2L1.15,0.85L-1.15,0.85Z","M0,-1.3L1.3,0L0,1.3L-1.3,0Z"]},"legend":{"orient":"none","legendX":172,"legendY":357,"direction":"horizontal","titleOrient":"left","titleFontSize":13.3,"titleFontWeight":"normal","titleColor":"#000000","titlePadding":6,"labelFontSize":11.5,"labelColor":"#000000","labelOffset":10,"columnPadding":2,"symbolStrokeColor":"#000000","symbolStrokeWidth":1,"symbolSize":64}}}}
]},
{"width":17,"height":64,"view":{"fill":"#cccccc","stroke":"#7f7f7f"},"data":{"values":[{"label":"Weibull"}]},"mark":{"type":"text","fontSize":11.5,"color":"#1a1a1a","angle":90},"encoding":{"text":{"field":"label"}}}
]}
]
}
